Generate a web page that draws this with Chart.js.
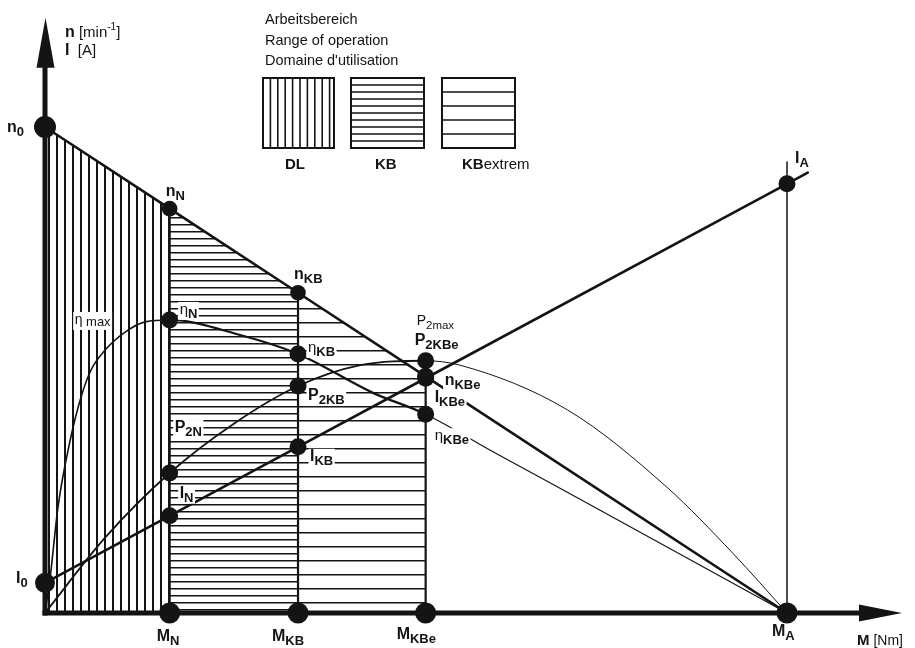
<!DOCTYPE html>
<html lang="de">
<head>
<meta charset="UTF-8">
<title>Kennlinien Gleichstrommotor</title>
<script src="https://cdn.jsdelivr.net/npm/chart.js"></script>
<style>
  html, body { margin: 0; padding: 0; background: #fff; overflow: hidden; }
  #motorChart { display: block; }
</style>
</head>
<body>
<canvas id="motorChart" width="915" height="648"></canvas>
<script>
// operating points on the torque axis (M_A = 100)
const torquePoints = [0, 16.8, 34.1, 51.3, 100];
const pointNames = ['0', 'N', 'KB', 'KBe', 'A'];
const speedValues = [100, 83.2, 65.9, 48.7, 0];          // n
const currentValues = [6.2, 20.0, 34.2, 48.3, 88.3];     // I_0 .. I_A
const currentEnd = [102.8, 90.6];                        // line runs a bit past I_A
const stallLineTop = 92.8;                               // vertical line at M_A

// efficiency curve
const etaTorque = [0, 0.7, 1.75, 3.4, 4.85, 6.2, 8.1, 10.8, 13.5, 16.8, 26.3, 34.1, 44.2, 51.3, 60, 75, 100];
const etaValues = [0, 7.4, 21.8, 35.6, 44.4, 50.0, 54.1, 57.8, 59.9, 60.3, 57.2, 53.3, 45.3, 40.9, 33.5, 21.0, 0];

// output power P2
const powerTorque = [0, 8.1, 16.8, 25.5, 34.1, 42.5, 51.3, 55.9, 70.4, 83.8, 92.7, 100];
const powerValues = [0, 15.5, 28.8, 39.0, 46.7, 51.0, 51.9, 51.0, 41.8, 25.9, 12.3, 0];

// view window (value units)
const X_MIN = -6.065, X_MAX = 117.25;
const Y_MIN = -7.2, Y_MAX = 126.13;

const INK = '#141414';
const FONT = '"Liberation Sans", Arial, Helvetica, sans-serif';

function at(xs, ys, m) { return ys[xs.indexOf(m)]; }
const M = torquePoints;
const eta = M.map(m => at(etaTorque, etaValues, m));
const pow = M.map(m => at(powerTorque, powerValues, m));

function hatch(step, vertical, lw) {
  const c = document.createElement('canvas');
  c.width = step; c.height = step;
  const g = c.getContext('2d');
  g.fillStyle = INK;
  if (vertical) g.fillRect(0, 0, lw, step); else g.fillRect(0, 0, step, lw);
  return g.createPattern(c, 'repeat');
}

function xy(xs, ys) { return xs.map((x, i) => ({x: x, y: ys[i]})); }

const lineBase = {pointRadius: 0, borderColor: INK, fill: false, borderJoinStyle: 'round', borderCapStyle: 'round'};

// hatched operating areas under the speed line
const areas = [
  {from: 0, to: 1, pattern: hatch(8, true, 2)},     // DL
  {from: 1, to: 2, pattern: hatch(7, false, 1.5)},  // KB
  {from: 2, to: 3, pattern: hatch(14, false, 1.5)}  // KBextrem
].map(a => ({
  data: [{x: M[a.from], y: speedValues[a.from]}, {x: M[a.to], y: speedValues[a.to]}],
  pointRadius: 0, borderWidth: 0, fill: 'origin', backgroundColor: a.pattern, order: 4
}));

const verticals = [1, 2, 3].map(i => ({
  ...lineBase, data: [{x: M[i], y: 0}, {x: M[i], y: speedValues[i]}], borderWidth: 2.2, order: 3
}));
verticals.push({...lineBase, data: [{x: M[4], y: 0}, {x: M[4], y: stallLineTop}], borderWidth: 1.5, order: 3});

const speedLine = {...lineBase, data: xy(M, speedValues), borderWidth: 2.6, order: 2};
const currentLine = {...lineBase, data: xy(M, currentValues).concat([{x: currentEnd[0], y: currentEnd[1]}]), borderWidth: 2.6, order: 2};
const etaLine = {
  ...lineBase, data: xy(etaTorque, etaValues), cubicInterpolationMode: 'monotone', order: 2,
  segment: {borderWidth: c => {
    const m = etaTorque[c.p1DataIndex];
    return m <= M[1] ? 1.6 : (m <= M[3] ? 2.3 : 1.2);
  }}
};
const powerLine = {
  ...lineBase, data: xy(powerTorque, powerValues), cubicInterpolationMode: 'monotone', order: 2,
  segment: {borderWidth: c => powerTorque[c.p1DataIndex] <= M[3] ? 1.8 : 1.0}
};

// marker dots
const dotData = [], dotRadius = [];
function dot(x, y, r) { dotData.push({x: x, y: y}); dotRadius.push(r); }
dot(0, speedValues[0], 11);
dot(0, currentValues[0], 10);
[1, 2, 3].forEach(i => {
  dot(M[i], 0, 10.5);
  dot(M[i], speedValues[i], i === 3 ? 8.5 : 7.8);
  dot(M[i], eta[i], 8.5);
  dot(M[i], pow[i], 8.5);
  dot(M[i], currentValues[i], 8.5);
});
dot(M[4], 0, 10.5);
dot(M[4], currentValues[4], 8.5);
const dots = {data: dotData, showLine: false, pointRadius: dotRadius, pointBackgroundColor: INK,
  pointBorderWidth: 0, pointHoverRadius: dotRadius, fill: false, order: 0};

// text styles: font, baseline shift
const ST = {
  B: ['bold 16px ' + FONT, 0], b: ['bold 13px ' + FONT, 4],
  E: ['15px ' + FONT, 0], Es: ['14px ' + FONT, 0], e: ['13px ' + FONT, 2],
  P: ['14px ' + FONT, 0], p: ['11.5px ' + FONT, 4],
  U: ['15px ' + FONT, 0], sup: ['10px ' + FONT, -7],
  MB: ['bold 15px ' + FONT, 0], MR: ['14px ' + FONT, 0],
  T: ['14.5px ' + FONT, 0], L: ['bold 15px ' + FONT, 0], Lr: ['15px ' + FONT, 0]
};

const pointLabels = [
  {p: [['n', 'B'], ['0', 'b']], at: [0, speedValues[0]], dx: -38, dy: 5},
  {p: [['I', 'B'], ['0', 'b']], at: [0, currentValues[0]], dx: -29, dy: 0},
  {p: [['n', 'B'], ['N', 'b']], at: [M[1], speedValues[1]], dx: -4, dy: -13},
  {p: [['n', 'B'], ['KB', 'b']], at: [M[2], speedValues[2]], dx: -4, dy: -14},
  {p: [['η', 'Es'], [' max', 'e']], at: [M[1], eta[1]], dx: -95, dy: 4, bg: true},
  {p: [['η', 'E'], ['N', 'b']], at: [M[1], eta[1]], dx: 10, dy: -6, bg: true},
  {p: [['η', 'E'], ['KB', 'b']], at: [M[2], eta[2]], dx: 10, dy: -2, bg: true},
  {p: [['P', 'B'], ['2N', 'b']], at: [M[1], pow[1]], dx: 5, dy: -41, bg: true},
  {p: [['P', 'B'], ['2KB', 'b']], at: [M[2], pow[2]], dx: 10, dy: 14, bg: true},
  {p: [['I', 'B'], ['N', 'b']], at: [M[1], currentValues[1]], dx: 10, dy: -18, bg: true},
  {p: [['I', 'B'], ['KB', 'b']], at: [M[2], currentValues[2]], dx: 12, dy: 14, bg: true},
  {p: [['P', 'P'], ['2max', 'p']], at: [M[3], pow[3]], dx: -9, dy: -36},
  {p: [['P', 'B'], ['2KBe', 'b']], at: [M[3], pow[3]], dx: -11, dy: -16},
  {p: [['n', 'B'], ['KBe', 'b']], at: [M[3], speedValues[3]], dx: 19, dy: 9, bg: true},
  {p: [['I', 'B'], ['KBe', 'b']], at: [M[3], currentValues[3]], dx: 9, dy: 24, bg: true},
  {p: [['η', 'E'], ['KBe', 'b']], at: [M[3], eta[3]], dx: 9, dy: 26, bg: true},
  {p: [['I', 'B'], ['A', 'b']], at: [M[4], currentValues[4]], dx: 8, dy: -21},
  {p: [['M', 'B'], ['N', 'b']], at: [M[1], 0], dx: -13, dy: 28},
  {p: [['M', 'B'], ['KB', 'b']], at: [M[2], 0], dx: -26, dy: 28},
  {p: [['M', 'B'], ['KBe', 'b']], at: [M[3], 0], dx: -29, dy: 26},
  {p: [['M', 'B'], ['A', 'b']], at: [M[4], 0], dx: -15, dy: 23},
  {p: [['M', 'MB'], [' [Nm]', 'MR']], at: [M[4], 0], dx: 70, dy: 32},
  {p: [['n', 'B'], [' [min', 'U'], ['-1', 'sup'], [']', 'U']], at: [0, speedValues[0]], dx: 20, dy: -90},
  {p: [['I', 'B'], ['  [A]', 'U']], at: [0, speedValues[0]], dx: 20, dy: -72}
];

const legendTitle = ['Arbeitsbereich', 'Range of operation', "Domaine d'utilisation"];
const legendKeys = [
  {p: [['DL', 'L']], box: [263, 78, 71, 70], kind: 'v', step: 7.4, tx: 285},
  {p: [['KB', 'L']], box: [351, 78, 73, 70], kind: 'h', step: 7, tx: 375},
  {p: [['KB', 'L'], ['extrem', 'Lr']], box: [442, 78, 73, 70], kind: 'h', step: 14, tx: 462}
];

function textRun(ctx, x, y, parts, bg) {
  let w = 0;
  parts.forEach(([t, s]) => { ctx.font = ST[s][0]; w += ctx.measureText(t).width; });
  if (bg) {
    ctx.fillStyle = '#fff';
    ctx.fillRect(x - 1.5, y - 12, w + 3, 18);
  }
  ctx.fillStyle = INK;
  let cx = x;
  parts.forEach(([t, s]) => {
    ctx.font = ST[s][0];
    ctx.fillText(t, cx, y + ST[s][1]);
    cx += ctx.measureText(t).width;
  });
}

const overlay = {
  id: 'overlay',
  afterDatasetsDraw(chart) {
    const {ctx, scales: {x, y}} = chart;
    ctx.save();
    ctx.fillStyle = INK;
    ctx.textBaseline = 'alphabetic';
    // axes with arrow heads
    const x0 = x.getPixelForValue(0), y0 = y.getPixelForValue(0);
    const yTip = y.getPixelForValue(122.5), xTip = x.getPixelForValue(115.5);
    ctx.fillRect(x0 - 2.5, yTip + 45, 5, y0 - yTip - 45 + 2.5);
    ctx.beginPath();
    ctx.moveTo(x0 + 0.5, yTip); ctx.lineTo(x0 + 9.5, yTip + 50); ctx.lineTo(x0 - 8.5, yTip + 50);
    ctx.closePath(); ctx.fill();
    ctx.fillRect(x0 - 2.5, y0 - 2.5, xTip - 40 - x0, 5);
    ctx.beginPath();
    ctx.moveTo(xTip, y0); ctx.lineTo(xTip - 43, y0 - 8.5); ctx.lineTo(xTip - 43, y0 + 8.5);
    ctx.closePath(); ctx.fill();

    // legend
    legendTitle.forEach((t, i) => textRun(ctx, 265, 24 + i * 20.5, [[t, 'T']]));
    legendKeys.forEach(k => {
      const [bx, by, bw, bh] = k.box;
      ctx.strokeStyle = INK;
      ctx.lineWidth = k.kind === 'v' ? 1.6 : 1.4;
      ctx.beginPath();
      if (k.kind === 'v') {
        for (let px = bx + k.step; px < bx + bw - 2; px += k.step) { ctx.moveTo(px, by); ctx.lineTo(px, by + bh); }
      } else {
        for (let py = by + k.step; py < by + bh - 2; py += k.step) { ctx.moveTo(bx, py); ctx.lineTo(bx + bw, py); }
      }
      ctx.stroke();
      ctx.lineWidth = 2;
      ctx.strokeRect(bx, by, bw, bh);
      textRun(ctx, k.tx, 169, k.p);
    });

    // point labels
    pointLabels.forEach(l => {
      const px = x.getPixelForValue(l.at[0]) + l.dx;
      const py = y.getPixelForValue(l.at[1]) + l.dy;
      textRun(ctx, px, py, l.p, l.bg);
    });
    ctx.restore();
  }
};

new Chart(document.getElementById('motorChart'), {
  type: 'line',
  data: {datasets: [dots, speedLine, currentLine, etaLine, powerLine, ...verticals, ...areas]},
  options: {
    responsive: false,
    animation: false,
    layout: {padding: 0, autoPadding: false},
    scales: {
      x: {type: 'linear', min: X_MIN, max: X_MAX, display: false},
      y: {type: 'linear', min: Y_MIN, max: Y_MAX, display: false}
    },
    plugins: {legend: {display: false}, tooltip: {enabled: false}},
    events: []
  },
  plugins: [overlay]
});
</script>
</body>
</html>
